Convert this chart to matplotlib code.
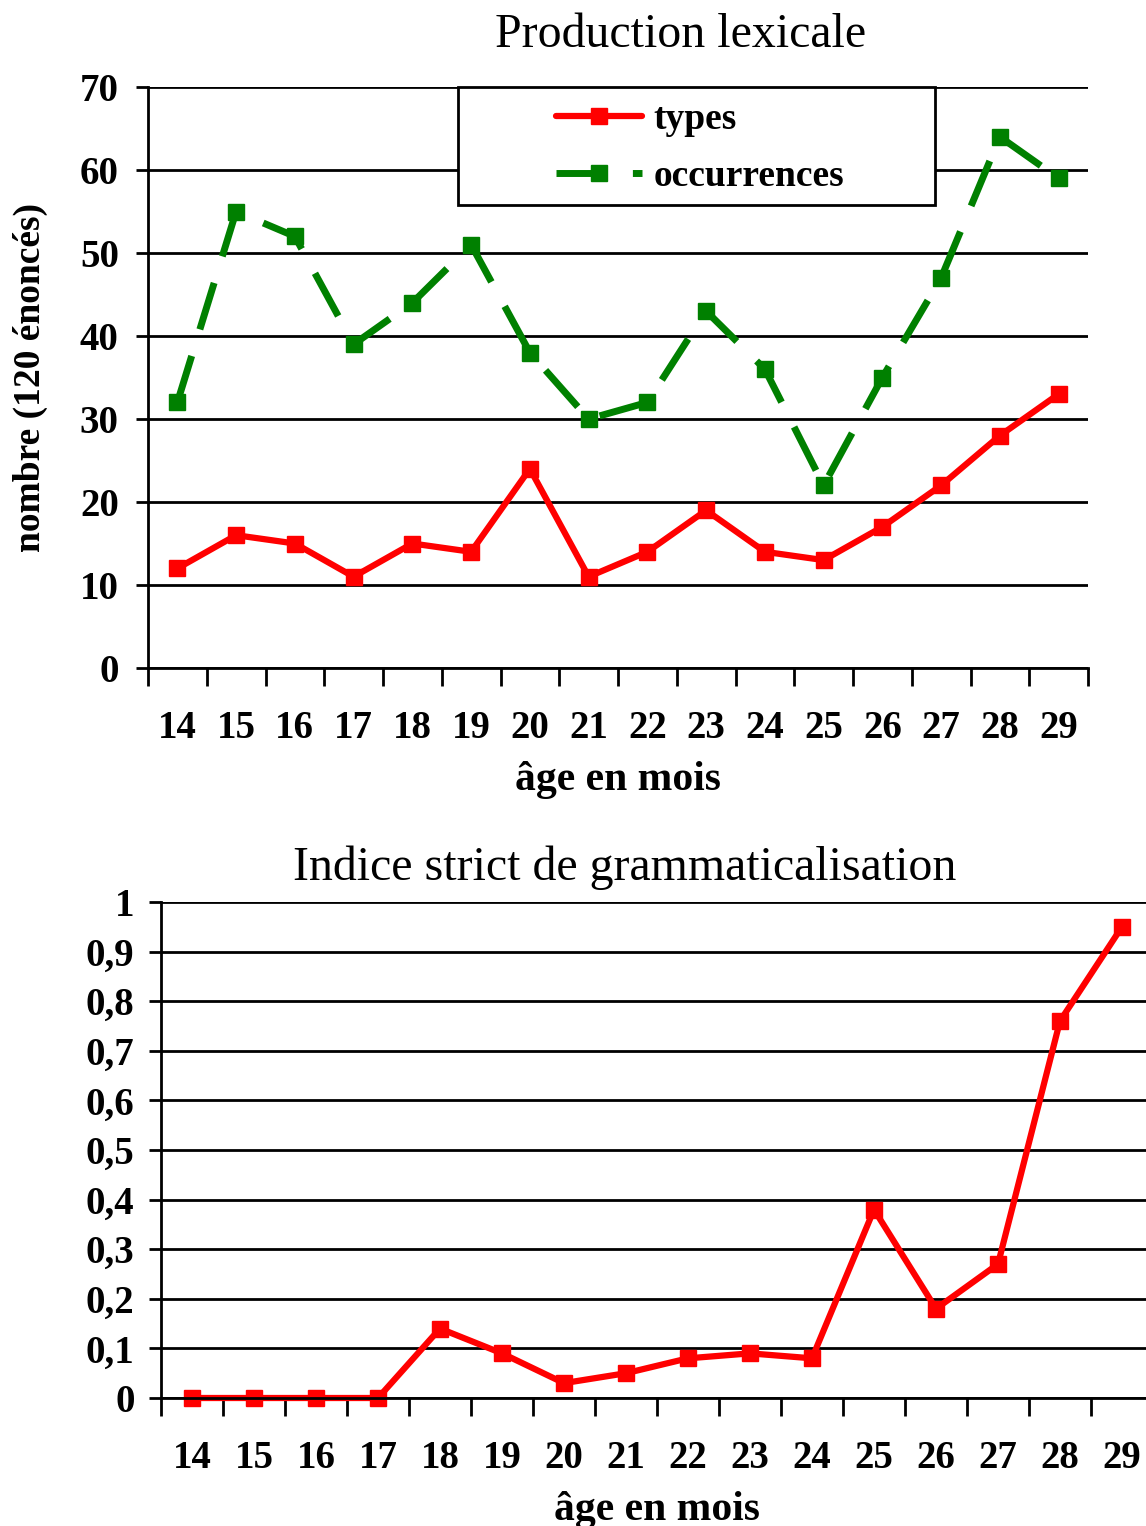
import matplotlib
matplotlib.use('Agg')
import matplotlib.pyplot as plt
from matplotlib.patches import Rectangle
from matplotlib.ticker import FuncFormatter

plt.rcParams['font.family'] = ['Liberation Serif', 'DejaVu Serif']

ages = [14, 15, 16, 17, 18, 19, 20, 21, 22, 23, 24, 25, 26, 27, 28, 29]
types = [12, 16, 15, 11, 15, 14, 24, 11, 14, 19, 14, 13, 17, 22, 28, 33]
occurrences = [32, 55, 52, 39, 44, 51, 38, 30, 32, 43, 36, 22, 35, 47, 64, 59]
indice = [0, 0, 0, 0, 0.14, 0.09, 0.03, 0.05, 0.08, 0.09, 0.08, 0.38, 0.18, 0.27, 0.76, 0.95]

W, H = 1146, 1526
fig = plt.figure(figsize=(W / 100, H / 100), dpi=100)


def frac(x0, x1, y_top, y_bot):
    return [x0 / W, 1 - y_bot / H, (x1 - x0) / W, (y_bot - y_top) / H]


def style_axes(ax, ypad):
    n = len(ages)
    ax.set_xlim(-0.5, n - 0.5)
    ax.set_xticks(range(n))
    ax.set_xticklabels([str(a) for a in ages])
    ax.set_xticks([i - 0.5 for i in range(n + 1)], minor=True)
    ax.tick_params(axis='x', which='major', length=0, pad=30, labelsize=28)
    ax.tick_params(axis='x', which='minor', length=13, width=2, direction='out')
    ax.tick_params(axis='y', length=9, width=2, direction='out', pad=ypad, labelsize=28)
    for lab in ax.get_xticklabels() + ax.get_yticklabels():
        lab.set_fontweight('bold')
    ax.grid(axis='y', color='black', linewidth=2)
    ax.set_axisbelow(True)
    ax.spines['top'].set_visible(False)
    ax.spines['right'].set_visible(False)
    ax.spines['left'].set_linewidth(2)
    ax.spines['bottom'].set_linewidth(2)
    ax.set_xlabel('âge en mois', fontsize=30, fontweight='bold', labelpad=10)


# --- top chart: production lexicale ---
ax1 = fig.add_axes(frac(148, 1088, 87, 668))
x = range(len(ages))
ax1.plot(x, types, color='red', linewidth=4.5, marker='s', markersize=12,
         label='types', solid_capstyle='round', clip_on=False)
ax1.plot(x, occurrences, color='green', linewidth=5, marker='s', markersize=12,
         dashes=(7, 4), label='occurrences', clip_on=False)
ax1.set_ylim(0, 70)
ax1.set_yticks(range(0, 71, 10))
style_axes(ax1, 12)

# legend box drawn by hand, entries placed inside it
box = Rectangle((458 / W, 1 - 205 / H), (935 - 458) / W, (205 - 87) / H,
                transform=fig.transFigure, facecolor='white', edgecolor='black',
                linewidth=2, zorder=5)
fig.patches.append(box)
leg = fig.legend(*ax1.get_legend_handles_labels(), loc='upper left',
                 bbox_to_anchor=(556 / W, 1 - 102 / H),
                 prop={'family': 'Liberation Serif', 'weight': 'bold', 'size': 27},
                 frameon=False, borderpad=0, handlelength=2.3, handletextpad=0.3,
                 borderaxespad=0, labelspacing=0.6)
leg.set_zorder(6)

fig.text(681 / W, 1 - 35 / H, 'Production lexicale', fontsize=34.5,
         ha='center', va='center')
fig.text(30 / W, 1 - 378 / H, 'nombre (120 énoncés)', fontsize=27,
         fontweight='bold', rotation=90, ha='center', va='center')

# --- bottom chart: indice strict ---
ax2 = fig.add_axes(frac(161, 1153, 902, 1398))
ax2.plot(x, indice, color='red', linewidth=4.5, marker='s', markersize=12,
         clip_on=False)
ax2.set_ylim(0, 1)
ax2.set_yticks([i / 10 for i in range(11)])
ax2.yaxis.set_major_formatter(FuncFormatter(
    lambda v, p: '0' if v == 0 else ('1' if v == 1 else f'{v:.1f}'.replace('.', ','))))
style_axes(ax2, 10)

fig.text(625 / W, 1 - 868 / H, 'Indice strict de grammaticalisation', fontsize=34.5,
         ha='center', va='center')

fig.savefig('out.png', dpi=100)
